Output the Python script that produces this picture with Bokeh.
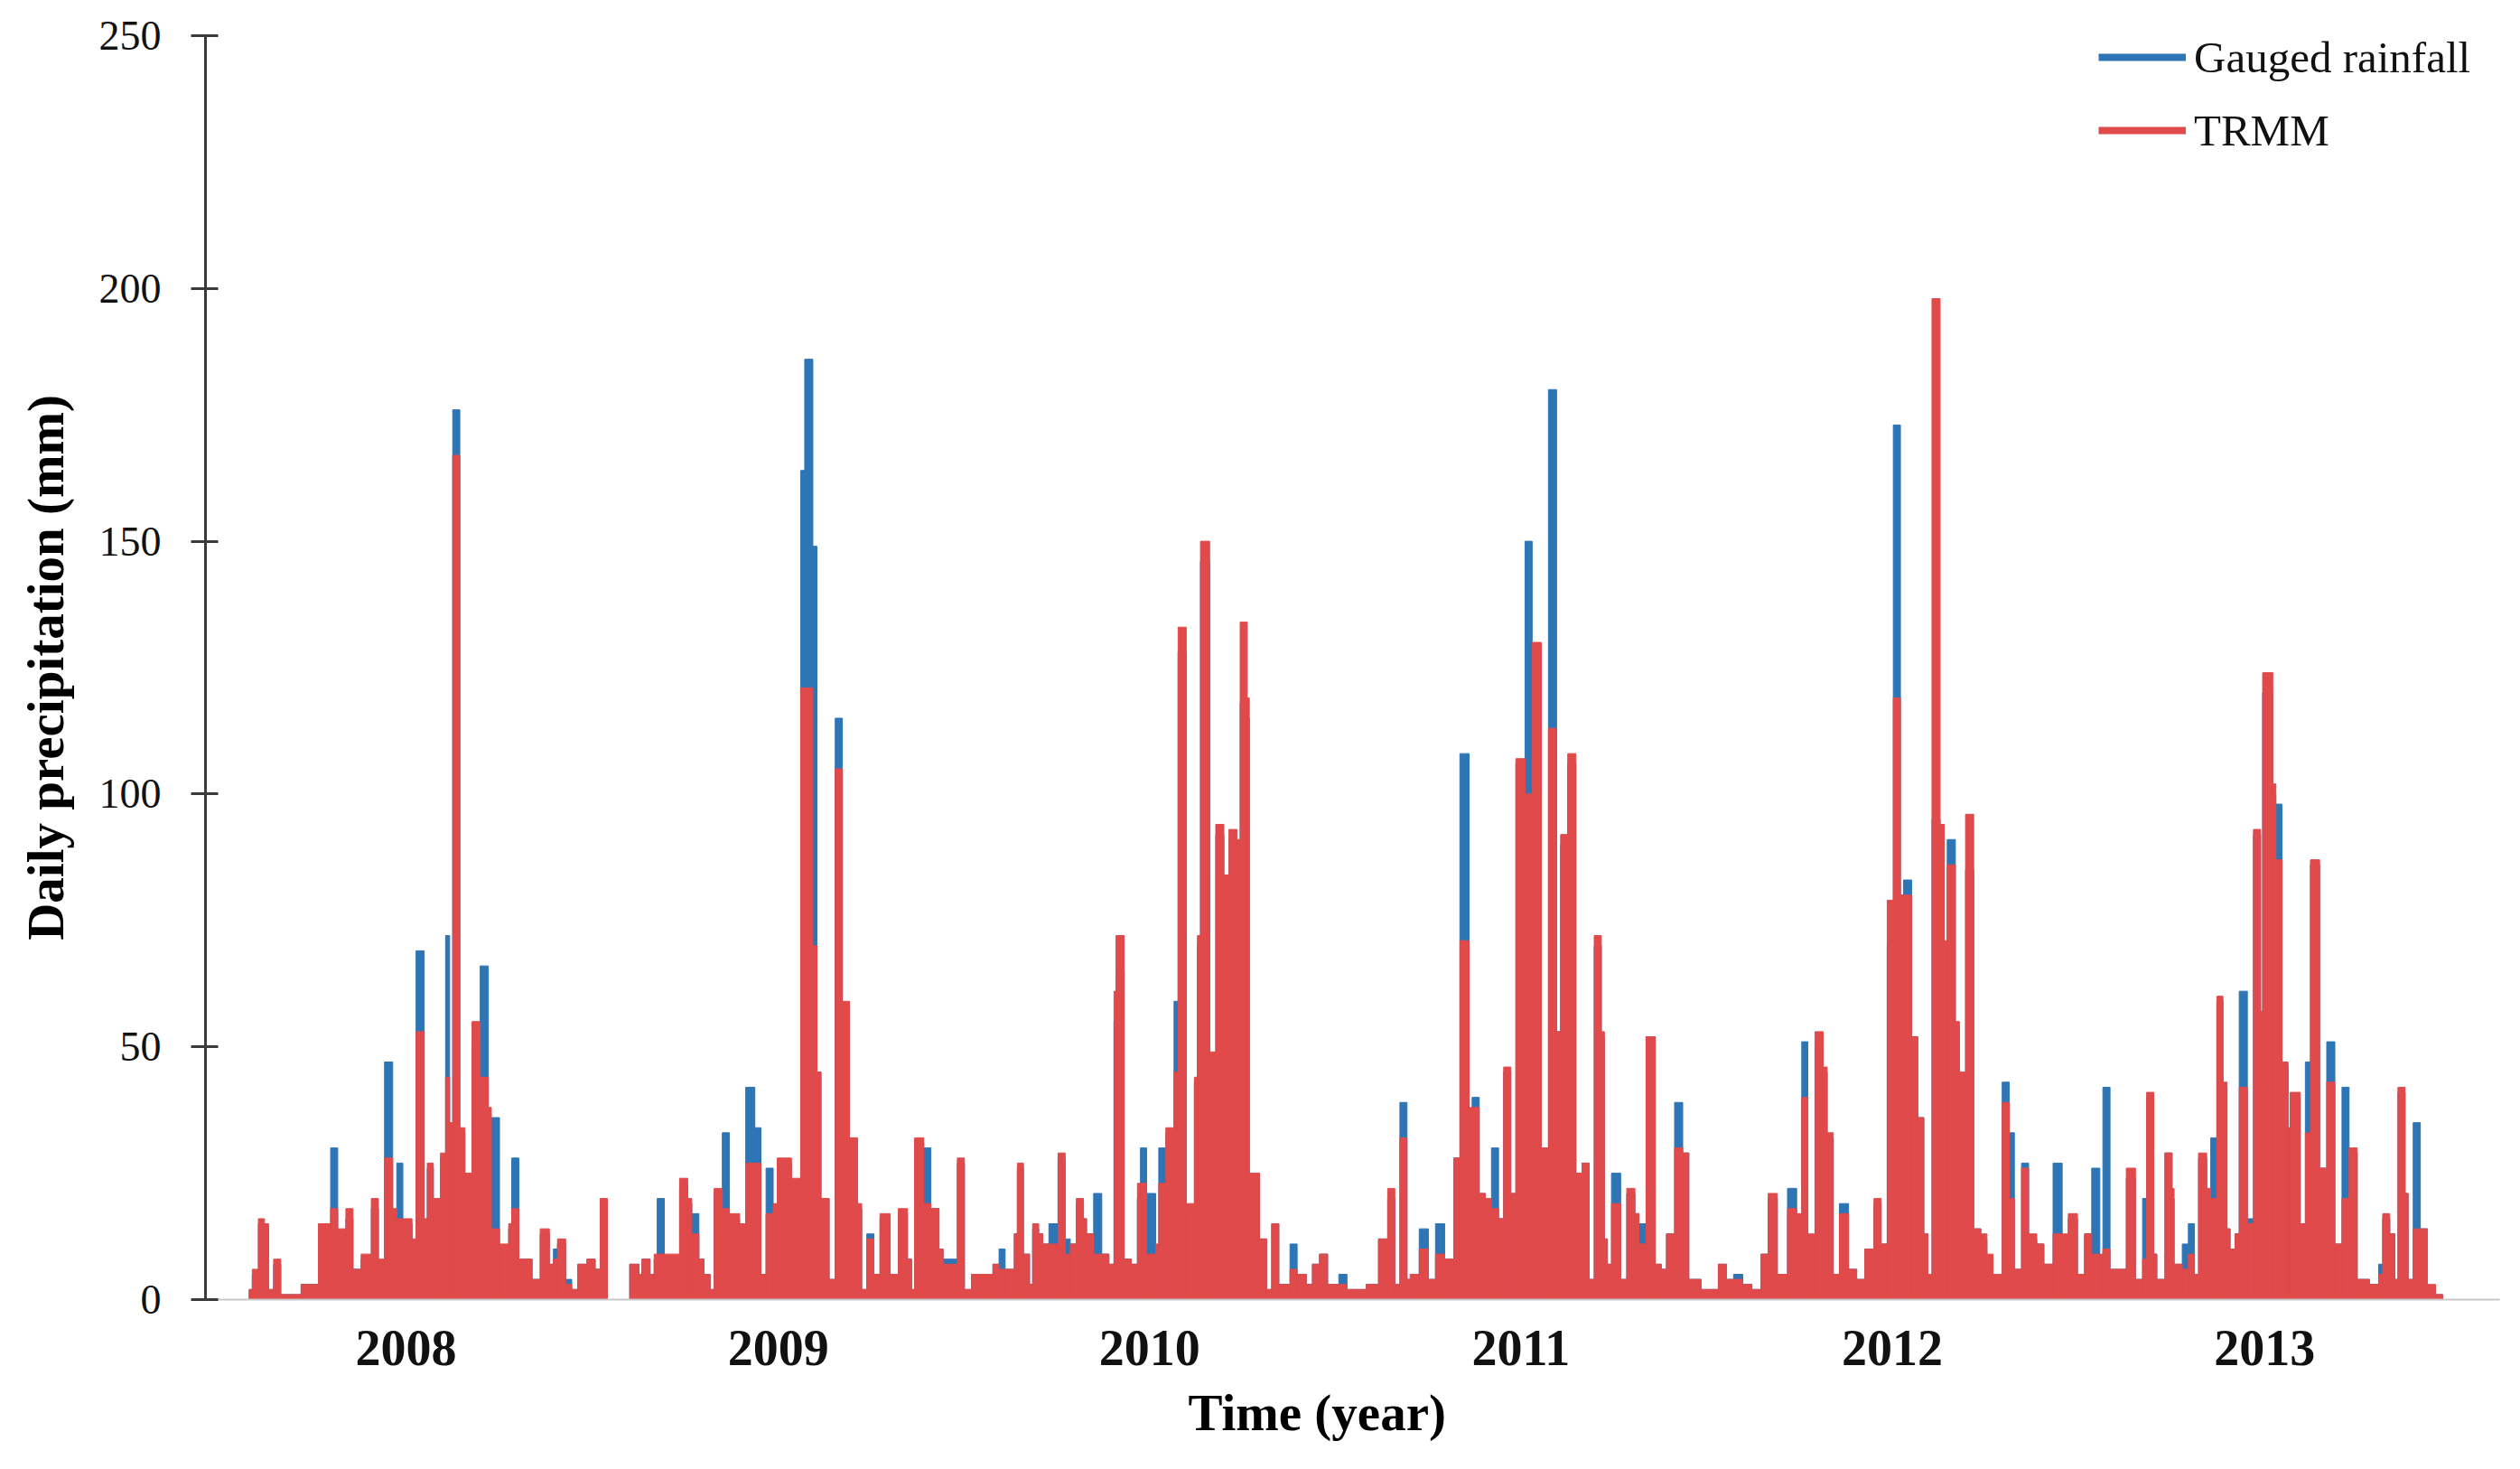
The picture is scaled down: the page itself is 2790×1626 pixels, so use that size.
import numpy as np
from datetime import datetime
from bokeh.plotting import figure
from bokeh.models import (ColumnDataSource, Range1d, FixedTicker,
                          DatetimeTickFormatter, Legend, LegendItem, Title)
from bokeh.embed import file_html
from bokeh.resources import INLINE

# ---------------- data ----------------
# Each entry: a period starting on "day" (days counted from 2008-01-01)
# holding the given daily precipitation (mm) until the next entry.
day_0708 = [-154, -151, -145, -139, -135, -130, -123, -103, -86, -74, -67, -59, -52, -44, -34, -27, -21, -13, -9, -3,
            6, 10, 18, 21, 27, 34, 39, 43, 46, 53, 58, 65, 73, 81, 84, 92, 101, 104, 111, 124,
            132, 141, 145, 149, 157, 163, 169, 178, 186, 191, 198]
gauged_0708 = [2, 5, 15, 14, 2, 7, 1, 3, 14, 30, 13, 16, 6, 8, 18, 7, 47, 17, 27, 15,
               11, 69, 15, 26, 19, 28, 72, 34, 176, 33, 24, 50, 66, 36, 36, 10, 14, 28, 8, 4,
               13, 7, 10, 11, 4, 2, 7, 8, 6, 19, 0]
trmm_0708 = [2, 6, 16, 15, 2, 8, 1, 3, 15, 18, 14, 18, 6, 9, 20, 8, 28, 18, 16, 16,
             12, 53, 16, 27, 20, 29, 44, 35, 167, 34, 25, 55, 44, 38, 14, 11, 15, 18, 8, 4,
             14, 7, 8, 12, 3, 2, 7, 8, 6, 20, 0]

day_0809 = [220, 229, 232, 240, 244, 247, 254, 269, 277, 281, 288, 293, 299, 303, 311, 318, 328, 334, 343, 349,
            354, 361, 365, 379, 388, 392, 400, 404, 408, 416, 422, 429, 436, 444, 448, 453, 460, 466, 476, 484,
            493, 497, 500, 509, 516, 524, 528, 542, 549, 556]
gauged_0809 = [7, 4, 8, 5, 8, 20, 8, 22, 19, 17, 8, 5, 2, 21, 33, 16, 14, 42, 34, 4,
               26, 18, 27, 23, 164, 186, 149, 45, 20, 4, 115, 58, 31, 18, 2, 13, 5, 16, 5, 17,
               8, 2, 31, 30, 18, 10, 8, 27, 2, 5]
trmm_0809 = [7, 5, 8, 5, 9, 9, 9, 24, 20, 13, 8, 5, 2, 22, 18, 17, 15, 27, 27, 5,
             17, 19, 28, 24, 121, 121, 70, 45, 20, 4, 105, 59, 32, 19, 2, 12, 5, 17, 5, 18,
             8, 2, 32, 19, 18, 10, 7, 28, 2, 5]

day_0910 = [577, 583, 589, 598, 601, 607, 613, 616, 622, 626, 632, 641, 648, 653, 659, 666, 669, 676, 684, 691,
            696, 698, 706, 713, 719, 722, 728, 737, 740, 747, 755, 759, 767, 775, 778, 781, 790, 796, 804, 809,
            817, 820, 827, 829, 839, 846, 851, 858, 869, 876, 885, 891, 898, 906, 917, 925, 944, 956]
gauged_0910 = [7, 10, 6, 13, 26, 9, 3, 14, 13, 11, 15, 28, 12, 11, 19, 16, 13, 21, 9, 7,
               55, 65, 8, 7, 20, 30, 21, 10, 30, 33, 59, 128, 18, 43, 70, 146, 48, 92, 83, 91,
               90, 118, 115, 25, 12, 2, 15, 3, 11, 5, 3, 7, 9, 3, 5, 2, 3, 12]
trmm_0910 = [7, 6, 6, 13, 27, 9, 3, 15, 13, 11, 11, 29, 9, 11, 20, 16, 13, 9, 9, 7,
             61, 72, 8, 7, 23, 23, 9, 11, 23, 34, 45, 133, 19, 44, 72, 150, 49, 94, 84, 93,
             91, 134, 119, 25, 12, 2, 15, 3, 6, 5, 3, 7, 9, 3, 3, 2, 3, 12]

day_1011 = [965, 972, 977, 984, 987, 996, 1005, 1012, 1021, 1030, 1036, 1045, 1048, 1055, 1061, 1067, 1074, 1079,
            1086, 1091, 1100, 1107, 1116, 1123, 1131, 1135, 1142, 1150, 1156, 1163, 1168, 1175, 1178, 1181, 1185,
            1194, 1200, 1208, 1212, 1219, 1228, 1234, 1239, 1247, 1255, 1261, 1273, 1290, 1298, 1305, 1314, 1323,
            1332, 1339]
gauged_1011 = [20, 3, 39, 4, 4, 14, 4, 15, 8, 28, 108, 36, 40, 21, 20, 30, 16, 45,
               21, 106, 150, 128, 30, 180, 53, 90, 106, 25, 27, 4, 70, 52, 12, 7, 25,
               4, 21, 17, 15, 52, 7, 6, 13, 39, 29, 4, 2, 7, 4, 5, 3, 2,
               9, 20]
trmm_1011 = [22, 3, 32, 4, 5, 10, 4, 9, 8, 28, 71, 38, 38, 21, 20, 18, 16, 46,
             21, 107, 100, 130, 30, 113, 53, 92, 108, 25, 27, 4, 72, 53, 12, 7, 19,
             4, 22, 17, 11, 52, 7, 6, 13, 30, 29, 4, 2, 7, 4, 4, 3, 2,
             9, 21]

day_1112 = [1348, 1358, 1367, 1372, 1378, 1385, 1393, 1397, 1403, 1409, 1418, 1426, 1434, 1443, 1450, 1456, 1462,
            1469, 1472, 1480, 1486, 1492, 1496, 1500, 1508, 1512, 1515, 1523, 1527, 1533, 1541, 1548, 1554, 1560,
            1569, 1576, 1581, 1588, 1595, 1603, 1610, 1619, 1628, 1634, 1643, 1650, 1657, 1665, 1668, 1675, 1691,
            1700, 1707]
gauged_1112 = [5, 22, 16, 51, 12, 50, 45, 32, 5, 19, 6, 4, 10, 19, 11, 70, 173,
               80, 83, 52, 36, 13, 4, 95, 90, 70, 91, 54, 44, 85, 14, 12, 8, 4,
               43, 33, 6, 27, 12, 11, 7, 27, 12, 16, 4, 13, 26, 8, 42, 6, 24,
               4, 20]
trmm_1112 = [5, 18, 17, 40, 13, 53, 46, 33, 5, 17, 6, 4, 10, 20, 11, 79, 119,
             80, 80, 52, 36, 13, 5, 198, 94, 71, 86, 55, 45, 96, 14, 13, 9, 5,
             39, 20, 6, 26, 13, 11, 7, 13, 13, 17, 5, 13, 9, 9, 10, 6, 26,
             4, 8]

day_1213 = [1711, 1718, 1721, 1729, 1736, 1738, 1746, 1752, 1758, 1762, 1770, 1774, 1780, 1786, 1790, 1793, 1798,
            1802, 1810, 1816, 1823, 1825, 1835, 1838, 1844, 1850, 1852, 1862, 1867, 1872, 1881, 1888, 1896, 1903,
            1910, 1918, 1930, 1939, 1943, 1950, 1955, 1958, 1965, 1968, 1973, 1980, 1987, 1995, 2002]
gauged_1213 = [40, 9, 4, 29, 20, 7, 11, 15, 5, 28, 21, 32, 59, 42, 14, 10, 13,
               61, 16, 92, 57, 120, 100, 98, 46, 34, 40, 15, 47, 86, 26, 51, 11, 42,
               29, 4, 3, 7, 16, 13, 4, 41, 21, 4, 35, 14, 2, 1, 0]
trmm_1213 = [41, 9, 4, 29, 22, 7, 6, 9, 5, 29, 22, 20, 60, 43, 14, 10, 13,
             42, 15, 93, 57, 124, 102, 87, 47, 34, 41, 15, 33, 87, 26, 43, 11, 20,
             30, 4, 3, 5, 17, 13, 4, 42, 21, 4, 14, 14, 3, 1, 0]

END_DAY = 2004                      # last period ends here
year_ticks = [2008, 2009, 2010, 2011, 2012, 2013]
y_ticks = [0, 50, 100, 150, 200, 250]
series_names = ["Gauged rainfall", "TRMM"]

# ---------------- build ----------------
seasons = [(day_0708, gauged_0708, trmm_0708), (day_0809, gauged_0809, trmm_0809),
           (day_0910, gauged_0910, trmm_0910), (day_1011, gauged_1011, trmm_1011),
           (day_1112, gauged_1112, trmm_1112), (day_1213, gauged_1213, trmm_1213)]
days, gauged, trmm = [], [], []
for d, g, t in seasons:
    n = min(len(d), len(g), len(t))
    days += list(d[:n]); gauged += list(g[:n]); trmm += list(t[:n])

base = np.datetime64("2008-01-01T00:00:00", "ms")
one_day = np.timedelta64(86400000, "ms")
left = base + np.array(days, dtype=np.int64) * one_day
right = base + np.array(days[1:] + [END_DAY], dtype=np.int64) * one_day

src = ColumnDataSource(dict(left=left, right=right, gauged=gauged, trmm=trmm))

BLUE = "#2E75B6"
RED = "#E04A4A"
SERIF = "Liberation Serif"

p = figure(width=2774, height=1610, x_axis_type="datetime",
           x_range=Range1d(start=datetime(2007, 6, 18), end=datetime(2013, 8, 20)),
           y_range=Range1d(0, 250),
           output_backend="svg", toolbar_location=None,
           min_border_left=227, min_border_right=7, min_border_top=39, min_border_bottom=171)
p.background_fill_color = "white"
p.border_fill_color = "white"
p.outline_line_color = None
p.grid.visible = False

p.quad(left="left", right="right", bottom=0, top="gauged", source=src,
       fill_color=BLUE, line_color=BLUE, line_width=1)
p.quad(left="left", right="right", bottom=0, top="trmm", source=src,
       fill_color=RED, line_color=RED, line_width=1)

# legend proxies (single point lines -> draw nothing in the plot)
proxy = ColumnDataSource(dict(x=left[:1], g=gauged[:1], t=trmm[:1]))
lb = p.line("x", "g", source=proxy, line_color=BLUE, line_width=8)
lr = p.line("x", "t", source=proxy, line_color=RED, line_width=8)

legend = Legend(items=[LegendItem(label=series_names[0], renderers=[lb]),
                       LegendItem(label=series_names[1], renderers=[lr])],
                location=(2096, 1254), orientation="vertical",
                glyph_width=97, glyph_height=80, label_height=80, label_standoff=9,
                spacing=1, padding=30, margin=0,
                border_line_color=None, background_fill_alpha=0,
                label_text_font=SERIF, label_text_font_size="49px", label_text_color="#111111")
p.add_layout(legend)

# y axis
ya = p.yaxis[0]
ya.ticker = FixedTicker(ticks=y_ticks)
ya.minor_tick_line_color = None
ya.major_tick_in = 14
ya.major_tick_out = 16
ya.major_tick_line_width = 3
ya.major_tick_line_color = "#3a3a3a"
ya.axis_line_width = 3
ya.axis_line_color = "#3a3a3a"
ya.major_label_text_font = SERIF
ya.major_label_text_font_size = "46px"
ya.major_label_text_color = "#111111"
ya.major_label_standoff = 33
ya.axis_label = "Daily precipitation (mm)"
ya.axis_label_text_font = SERIF
ya.axis_label_text_font_style = "bold"
ya.axis_label_text_font_size = "57px"
ya.axis_label_text_color = "#000000"
ya.axis_label_standoff = 25

# x axis
year_ms = [float((np.datetime64(f"{y}-01-01T00:00:00", "ms") - np.datetime64("1970-01-01T00:00:00", "ms")).astype(np.int64))
           for y in year_ticks]
xa = p.xaxis[0]
xa.ticker = FixedTicker(ticks=year_ms)
fmt = "%Y"
xa.formatter = DatetimeTickFormatter(years=fmt, months=fmt, days=fmt, hours=fmt, hourmin=fmt,
                                     minutes=fmt, minsec=fmt, seconds=fmt,
                                     milliseconds=fmt, microseconds=fmt)
xa.major_tick_line_color = None
xa.minor_tick_line_color = None
xa.major_tick_in = 0
xa.major_tick_out = 0
xa.axis_line_color = "#c8c8c8"
xa.axis_line_width = 2
xa.major_label_text_font = SERIF
xa.major_label_text_font_style = "bold"
xa.major_label_text_font_size = "56px"
xa.major_label_text_color = "#111111"
xa.major_label_standoff = 34

# x-axis title (slightly left of the frame centre, as in the original)
x_title = Title(text="Time (year)", align="left", offset=1088, standoff=32,
                text_font=SERIF, text_font_size="57px", text_font_style="bold",
                text_color="#000000")
p.add_layout(x_title, "below")

open("out.html", "w").write(file_html(p, INLINE))
